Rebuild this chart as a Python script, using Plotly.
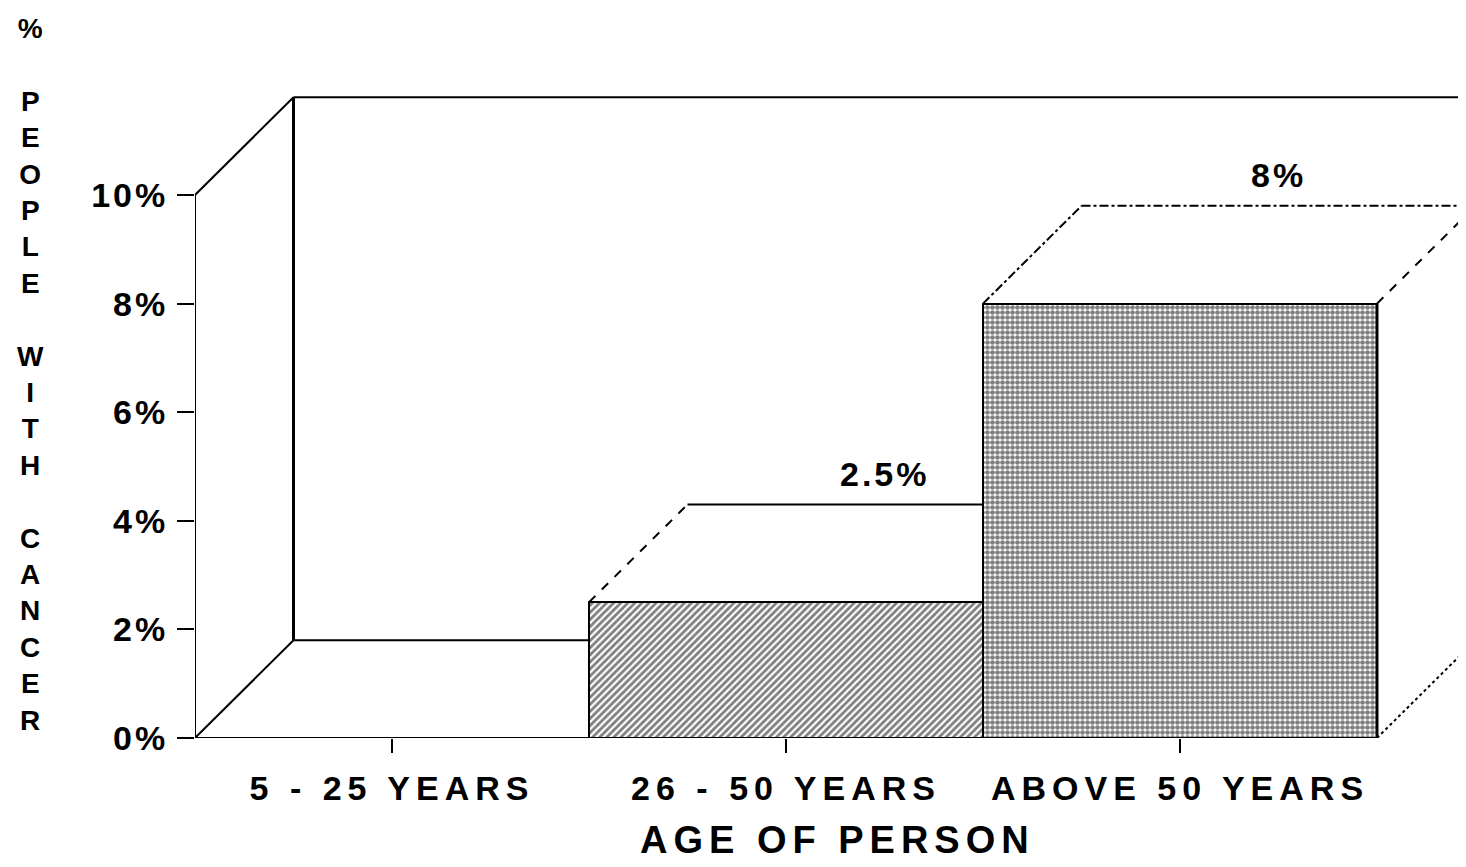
import plotly.graph_objects as go

# ---- data ----
categories = ["5 - 25 YEARS", "26 - 50 YEARS", "ABOVE 50 YEARS"]
percent_values = [0, 2.5, 8]
value_labels = ["", "2.5%", "8%"]
y_tick_values = [0, 2, 4, 6, 8, 10]
y_tick_labels = ["0%", "2%", "4%", "6%", "8%", "10%"]
y_title = "% PEOPLE WITH CANCER"
x_title = "AGE OF PERSON"

# ---- style ----
FONT = "Liberation Sans, Arial, Helvetica, sans-serif"
DX, DY = 0.25, 1.8          # pseudo-3D depth offset (x in category units, y in %)
X0 = -0.5
WALL_TOP = max(y_tick_values)
pattern_shapes = ["", "/", "."]
pattern_sizes = [8, 5, 5]
pattern_solid = [0.3, 0.55, 0.7]

# page body has an 8px margin: figure is offset by (8, 8)
FIG_W, FIG_H = 1458, 859
M_L, M_T, M_B, M_R = 187, 52, 129, 0
PLOT_W = FIG_W - M_L - M_R     # 1271
PLOT_H = FIG_H - M_T - M_B     # 678
PX_PER_CAT = 394
PX_PER_PCT = 54.3

xs = list(range(len(categories)))

fig = go.Figure()
fig.add_trace(go.Bar(
    x=xs, y=percent_values, width=1.0,
    marker=dict(color="white",
                line=dict(color="black", width=2),
                pattern=dict(shape=pattern_shapes, size=pattern_sizes,
                             solidity=pattern_solid, fgcolor="black",
                             bgcolor="white", fillmode="overlay")),
    showlegend=False, hoverinfo="skip",
))

shapes = []
def seg(x0, y0, x1, y1, w=2, dash="solid"):
    shapes.append(dict(type="line", xref="x", yref="y", x0=x0, y0=y0, x1=x1, y1=y1,
                       line=dict(color="black", width=w, dash=dash), layer="above"))

n = len(categories)
right_end = n - 0.5
# front axis & floor
seg(X0, 0, X0, WALL_TOP, 2)
seg(X0, 0, right_end, 0, 2)
# left depth edges
seg(X0, 0, X0 + DX, DY, 2)
seg(X0, WALL_TOP, X0 + DX, WALL_TOP + DY, 2)
# back wall
seg(X0 + DX, DY, X0 + DX, WALL_TOP + DY, 3)
seg(X0 + DX, WALL_TOP + DY, right_end + 1, WALL_TOP + DY, 2)
# back floor line up to first visible bar
first_bar = next(i for i, v in enumerate(percent_values) if v > 0)
seg(X0 + DX, DY, first_bar - 0.5, DY, 2)

dashes = ["dash", "dash", "dashdot"]
for i, v in enumerate(percent_values):
    if v <= 0:
        continue
    left, right = i - 0.5, i + 0.5
    seg(left, v, left + DX, v + DY, 2, dashes[i])
    end = right + DX
    if i + 1 < n and percent_values[i + 1] > v + DY:
        end = right
    seg(left + DX, v + DY, end, v + DY, 2, "solid" if i + 1 < n else "dashdot")
    if i == n - 1:
        seg(right, 0, right, v, 3)
        seg(right, v, right + DX, v + DY, 2, "dash")
        seg(right, 0, right + DX, DY, 2, "dot")

# page pixel -> paper coordinate helpers (page pixel = fig pixel + 8)
def px_x(p):
    return (p - 8 - M_L) / PLOT_W
def px_y(p):
    return (FIG_H - M_B - (p - 8)) / PLOT_H

annotations = []
stack = "<br>".join(c for c in y_title)
annotations.append(dict(text=stack, xref="paper", yref="paper",
                        x=px_x(30), y=px_y(375),
                        xanchor="center", yanchor="middle", showarrow=False,
                        font=dict(family=FONT, size=28, color="black", weight="bold")))
annotations.append(dict(text=x_title, xref="paper", yref="paper",
                        x=px_x(837), y=px_y(840),
                        xanchor="center", yanchor="middle", showarrow=False,
                        font=dict(family=FONT, size=38, color="black", weight="bold")))
for i, (v, lab) in enumerate(zip(percent_values, value_labels)):
    if lab:
        annotations.append(dict(text=lab, x=i + DX, y=v + DY, xref="x", yref="y",
                                xanchor="center", yanchor="middle", yshift=31,
                                showarrow=False,
                                font=dict(family=FONT, size=34, color="black", weight="bold")))

fig.update_layout(
    width=FIG_W, height=FIG_H,
    margin=dict(l=M_L, r=M_R, t=M_T, b=M_B),
    paper_bgcolor="white", plot_bgcolor="white",
    bargap=0,
    shapes=shapes, annotations=annotations,
    xaxis=dict(range=[-0.5, -0.5 + PLOT_W / PX_PER_CAT], tickvals=xs, ticktext=categories,
               ticks="outside", ticklen=14, tickwidth=2, tickcolor="black",
               showline=False, showgrid=False, zeroline=False,
               ticklabelstandoff=6,
               tickfont=dict(family=FONT, size=34, color="black", weight="bold")),
    yaxis=dict(range=[0, PLOT_H / PX_PER_PCT], tickvals=y_tick_values, ticktext=y_tick_labels,
               ticks="outside", ticklen=17, tickwidth=2, tickcolor="black",
               showline=False, showgrid=False, zeroline=False,
               ticklabelstandoff=2,
               tickfont=dict(family=FONT, size=34, color="black", weight="bold")),
)

post = """
var s=document.createElement('style');
s.textContent='.xtick text{letter-spacing:6px}.ytick text{letter-spacing:3px}'+
 '.annotation[data-index="1"] text{letter-spacing:6px}'+
 '.annotation[data-index="2"] text,.annotation[data-index="3"] text{letter-spacing:3px}';
document.head.appendChild(s);
"""
fig.write_html("out.html", post_script=post)
